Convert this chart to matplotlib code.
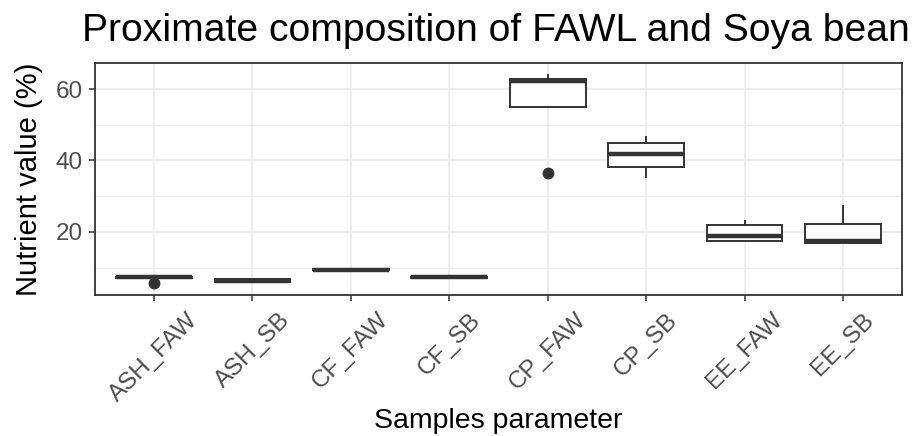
import matplotlib
matplotlib.use("Agg")
import matplotlib.pyplot as plt
from matplotlib.ticker import MultipleLocator

plt.rcParams["font.family"] = ["Liberation Sans", "DejaVu Sans"]

# box statistics
samples = ["ASH_FAW", "ASH_SB", "CF_FAW", "CF_SB", "CP_FAW", "CP_SB", "EE_FAW", "EE_SB"]
q1 = [7.2, 6.0, 9.2, 7.2, 55.0, 38.2, 17.4, 17.0]
median = [7.3, 6.3, 9.4, 7.3, 62.3, 41.8, 18.9, 17.4]
q3 = [7.4, 6.9, 9.7, 7.4, 62.8, 44.9, 21.9, 22.3]
whis_lo = [7.2, 6.0, 9.2, 7.2, 55.0, 35.5, 17.4, 17.0]
whis_hi = [7.4, 6.9, 9.7, 7.4, 63.9, 46.5, 22.9, 27.3]
outliers = [[5.6], [], [], [], [36.6], [], [], []]

stats = []
for i, name in enumerate(samples):
    stats.append({
        "label": name, "q1": q1[i], "med": median[i], "q3": q3[i],
        "whislo": whis_lo[i], "whishi": whis_hi[i], "fliers": outliers[i],
    })

fig = plt.figure(figsize=(9.17, 4.36), dpi=100)
ax = fig.add_axes([0.1036, 0.3234, 0.8801, 0.5321])

dark = "#333333"
ax.bxp(stats, positions=range(1, len(samples) + 1), widths=0.77,
       showcaps=False, patch_artist=True,
       boxprops=dict(facecolor="white", edgecolor=dark, linewidth=1.4),
       medianprops=dict(color=dark, linewidth=3.2, solid_capstyle="butt"),
       whiskerprops=dict(color=dark, linewidth=1.4),
       flierprops=dict(marker="o", markerfacecolor=dark, markeredgecolor=dark, markersize=7.5),
       zorder=3)

ax.set_xlim(0.4, len(samples) + 0.6)
ax.set_ylim(2.3, 67.3)
ax.yaxis.set_minor_locator(MultipleLocator(10))
ax.set_yticks([20, 40, 60])
ax.grid(True, which="major", color="#EBEBEB", linewidth=1.2, zorder=0)
ax.grid(True, which="minor", axis="y", color="#EBEBEB", linewidth=0.7, zorder=0)
ax.set_axisbelow(True)
ax.tick_params(which="minor", length=0)
ax.tick_params(which="major", length=4, width=1.1, color=dark, labelsize=17.5,
               labelcolor="#4D4D4D")
ax.tick_params(axis="y", pad=5)
ax.tick_params(axis="x", pad=6)
ax.set_xticks(range(1, len(samples) + 1))
ax.set_xticklabels(samples, rotation=45, ha="center", va="top")
for s in ax.spines.values():
    s.set_color(dark)
    s.set_linewidth(1.3)

ax.set_ylabel("Nutrient value (%)", fontsize=21, labelpad=9)
ax.set_xlabel("Samples parameter", fontsize=20.5, labelpad=2)
fig.text(0.089, 0.93, "Proximate composition of FAWL and Soya bean", fontsize=28.2, va="center")

fig.savefig("out.png", dpi=100)
plt.close(fig)
